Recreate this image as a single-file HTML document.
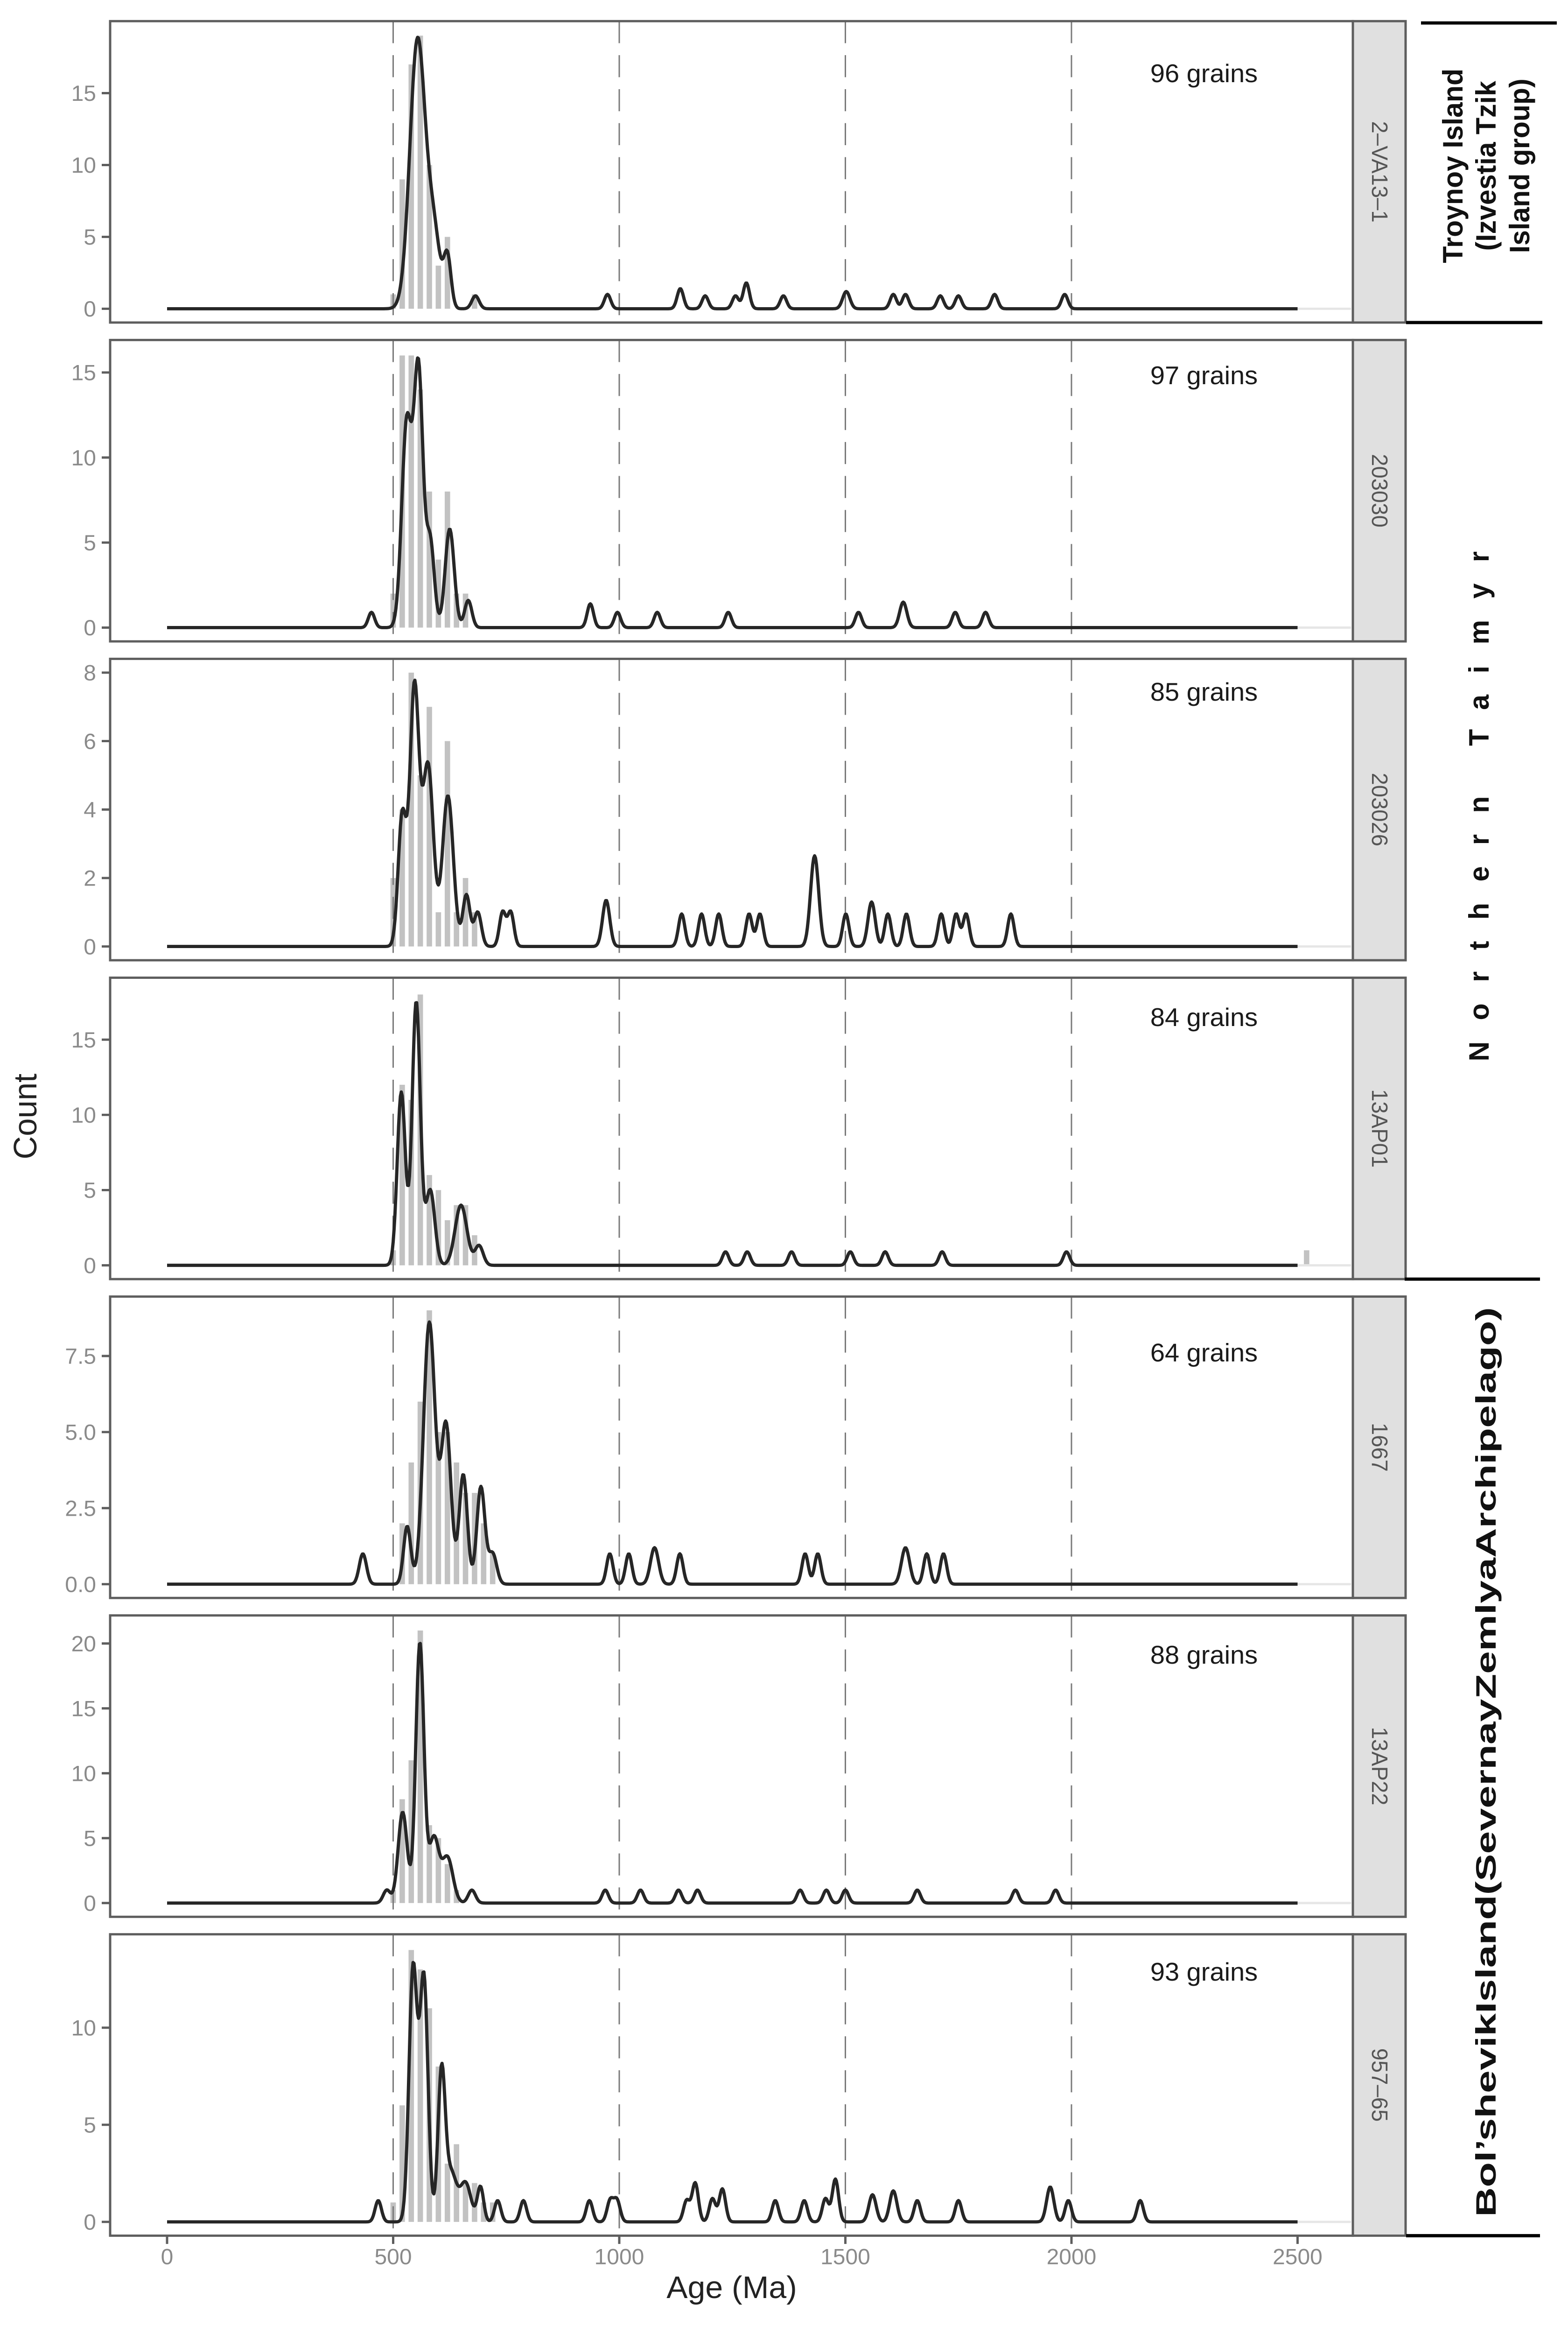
<!DOCTYPE html>
<html><head><meta charset="utf-8"><title>Detrital zircon age spectra</title>
<style>html,body{margin:0;padding:0;background:#fff;width:100vw;height:100vh;overflow:hidden}svg{display:block;width:100vw;height:100vh}</style></head>
<body>
<svg id="chart" viewBox="0 0 3360 5080" preserveAspectRatio="none" xmlns="http://www.w3.org/2000/svg" font-family="'Liberation Sans', sans-serif" overflow="hidden"></svg>
<script>
// ---- data ----
const sampleNames = ["2\u2013VA13\u20131","203030","203026","13AP01","1667","13AP22","957\u201365"];
const grainLabels = ["96 grains","97 grains","85 grains","84 grains","64 grains","88 grains","93 grains"];
const yMax = [19.05, 16.1, 8.0, 18.2, 9.0, 21.1, 14.1];
const yTicks1 = [0,5,10,15];
const yTicks2 = [0,5,10,15];
const yTicks3 = [0,2,4,6,8];
const yTicks4 = [0,5,10,15];
const yTicks5 = [0,2.5,5,7.5];
const yTicks6 = [0,5,10,15,20];
const yTicks7 = [0,5,10];
const xTicks = [0,500,1000,1500,2000,2500];
const refLines = [500,1000,1500,2000];

// KDE components: age (Ma), amplitude (count), sigma (Ma)
const p1Ages=[554,590,620,682,974,1135,1190,1257,1281,1363,1502,1606,1633,1710,1750,1830,1985];
const p1Amps=[18.7,5,3.5,0.9,1,1.4,0.9,0.9,1.8,0.9,1.2,1,1,0.9,0.9,1,1];
const p1Sig =[17,14,8,8,7,7,7,7,7,7,8,7,7,7,7,7,7];
const p2Ages=[452,530,556,582,625,666,936,996,1084,1241,1529,1628,1743,1810];
const p2Amps=[0.9,12,15,5,5.8,1.6,1.4,0.9,0.9,0.9,0.9,1.5,0.9,0.9];
const p2Sig =[7,11,10,9,10,8,7,7,7,7,7,8,7,7];
const p3Ages=[520,547,577,621,662,687,742,760,971,1138,1182,1220,1287,1311,1432,1501,1558,1594,1635,1712,1745,1767,1866];
const p3Amps=[3.8,7.5,5.3,4.4,1.5,1,1,1,1.35,0.95,0.95,0.95,0.95,0.95,2.65,0.95,1.3,0.95,0.95,0.95,0.95,0.95,0.95];
const p3Sig =[9,10,12,12,8,8,7,7,8,7,7,7,7,7,9,7,8,7,7,7,7,7,7];
const p4Ages=[518,551,582,650,690,1235,1283,1381,1511,1588,1714,1989];
const p4Amps=[11.5,17.5,5,4,1.3,0.9,0.9,0.9,0.9,0.9,0.9,0.9];
const p4Sig =[9,9,10,13,9,7,7,7,7,7,7,7];
const p5Ages=[433,531,580,617,655,694,720,979,1021,1078,1134,1411,1439,1633,1680,1717];
const p5Amps=[1,1.9,8.6,5.2,3.6,3.2,1,1,1,1.2,1,1,1,1.2,1,1];
const p5Sig =[8,8,13,11,9,9,9,7,7,9,7,7,7,9,7,7];
const p6Ages=[486,521,559,590,620,674,969,1047,1131,1173,1400,1458,1500,1659,1876,1965];
const p6Amps=[1,7,20,5,3.5,1,1,1,1,1,1,1,1,1,1,1];
const p6Sig =[8,10,9,11,12,8,7,7,7,7,7,7,7,7,7,7];
const p7Ages=[467,544,568,607,628,660,693,731,788,934,980,995,1149,1168,1206,1228,1345,1409,1456,1478,1560,1606,1659,1750,1953,1993,2152];
const p7Amps=[1.1,13,12.5,7.6,2.5,2,1.8,1.1,1.1,1.1,1.1,1.1,1.1,2,1.2,1.7,1.1,1.1,1.2,2.2,1.4,1.6,1.1,1.1,1.8,1.1,1.1];
const p7Sig =[7,9,9,8,12,12,7,7,7,7,7,7,7,7,7,7,7,7,7,7,8,8,7,7,8,7,7];

// Histogram bars: bin centers (Ma) and counts
const p1BarAges=[500,520,540,560,580,600,620,680];
const p1BarCounts=[1,9,17,19,10,3,5,1];
const p2BarAges=[500,520,540,560,580,600,620,640,660];
const p2BarCounts=[2,16,16,14,8,4,8,2,2];
const p3BarAges=[500,520,540,560,580,600,620,640,660,680];
const p3BarCounts=[2,4,8,5,7,1,6,1,2,1];
const p4BarAges=[500,520,540,560,580,600,620,640,660,680,2520];
const p4BarCounts=[1,12,11,18,6,5,3,4,4,2,1];
const p5BarAges=[520,540,560,580,600,620,640,660,680,700,720];
const p5BarCounts=[2,4,6,9,5,5,4,3,3,2,1];
const p6BarAges=[500,520,540,560,580,600,620,640];
const p6BarCounts=[1,8,11,21,6,5,3,1];
const p7BarAges=[500,520,540,560,580,600,620,640,660,680,700,720];
const p7BarCounts=[1,6,14,13,11,8,3,4,2,2,1,1];

const grainOffsets=[133,96,91,105,141,105,101];

// ---- layout ----
const svg=document.getElementById('chart');
const NS='http://www.w3.org/2000/svg';
const PL=236, PR=2899, SR=3012, PH=656, PITCH=694, TOP0=46;
function X(a){return 358+0.969*a;}
function mk(tag,attrs,parent){const e=document.createElementNS(NS,tag);for(const k in attrs)e.setAttribute(k,attrs[k]);(parent||svg).appendChild(e);return e;}

const comps=[[p1Ages,p1Amps,p1Sig],[p2Ages,p2Amps,p2Sig],[p3Ages,p3Amps,p3Sig],[p4Ages,p4Amps,p4Sig],[p5Ages,p5Amps,p5Sig],[p6Ages,p6Amps,p6Sig],[p7Ages,p7Amps,p7Sig]];
const bars=[[p1BarAges,p1BarCounts],[p2BarAges,p2BarCounts],[p3BarAges,p3BarCounts],[p4BarAges,p4BarCounts],[p5BarAges,p5BarCounts],[p6BarAges,p6BarCounts],[p7BarAges,p7BarCounts]];
const ticks=[yTicks1,yTicks2,yTicks3,yTicks4,yTicks5,yTicks6,yTicks7];

for(let i=0;i<7;i++){
  const top=TOP0+i*PITCH, bot=top+PH, m=yMax[i];
  const y0=bot-30, k=(PH-60)/m;
  const Y=v=>y0-v*k;
  const g=mk('g',{});
  
  
  const [ba,bc]=bars[i];
  for(let j=0;j<ba.length;j++){
    const r=mk('rect',{x:X(ba[j]-6),y:Y(bc[j]),width:X(6)-X(-6),height:y0-Y(bc[j]),fill:'#c2c2c2'},g);
    
    
  }
  mk('line',{x1:X(2500),x2:PR-4,y1:y0,y2:y0,stroke:'#e6e6e6','stroke-width':5},g);
  refLines.forEach(a=>{
    const l=mk('line',{x1:X(a),x2:X(a),y1:top,y2:bot,stroke:'#7a7a7a','stroke-width':3,'stroke-dasharray':'48 26'},g);
    
    
  });
  const [ag,am,sg]=comps[i];
  let d='';
  for(let a=0;a<=2500;a+=2){
    let v=0;for(let j=0;j<ag.length;j++){const z=(a-ag[j])/sg[j];v+=am[j]*Math.exp(-0.5*z*z);}
    d+=(a?'L':'M')+X(a).toFixed(1)+' '+Y(v).toFixed(1);
  }
  const p=mk('path',{d:d,fill:'none',stroke:'#262626','stroke-width':7,'stroke-linejoin':'round'},g);
  
  
  mk('rect',{x:PL,y:top,width:PR-PL,height:PH,fill:'none',stroke:'#5e5e5e','stroke-width':5},g);
  const s=mk('rect',{x:PR,y:top,width:SR-PR,height:PH,fill:'#e0e0e0',stroke:'#5e5e5e','stroke-width':5},g);
  
  
  const cx=(PR+SR)/2, cy=top+PH/2;
  const st=mk('text',{x:cx,y:cy,'font-size':48,fill:'#555','text-anchor':'middle','dominant-baseline':'central',transform:`rotate(90 ${cx} ${cy})`},g);
  st.textContent=sampleNames[i];
  
  
  const gl=mk('text',{x:2580,y:top+grainOffsets[i],'font-size':56,fill:'#1a1a1a','text-anchor':'middle'},g);
  gl.textContent=grainLabels[i];
  
  
  ticks[i].forEach(t=>{
    mk('line',{x1:PL-18,x2:PL,y1:Y(t),y2:Y(t),stroke:'#5e5e5e','stroke-width':5},g);
    const tl=mk('text',{x:PL-30,y:Y(t)+17,'font-size':48,fill:'#8a8a8a','text-anchor':'end'},g);
    tl.textContent=(i===4)?t.toFixed(1):String(t);
    
    
  });
}
const botY=TOP0+6*PITCH+PH;
xTicks.forEach(t=>{
  mk('line',{x1:X(t),x2:X(t),y1:botY,y2:botY+18,stroke:'#5e5e5e','stroke-width':5});
  const tl=mk('text',{x:X(t),y:botY+62,'font-size':48,fill:'#8a8a8a','text-anchor':'middle'});
  tl.textContent=String(t);
  
  
});
const xt=mk('text',{x:1568,y:botY+136,'font-size':68,fill:'#222','text-anchor':'middle'});
xt.textContent='Age (Ma)';


const yt=mk('text',{x:78,y:2430,'font-size':70,fill:'#222','text-anchor':'middle',transform:'rotate(-90 78 2430)'});
yt.textContent='Count';



const divs=[[3045,3336,50],[3013,3305,TOP0+PH],[3010,3300,TOP0+3*PITCH+PH],[3013,3300,botY]];
divs.forEach(b=>{
  const l=mk('line',{x1:b[0],x2:b[1],y1:b[2],y2:b[2],stroke:'#000','stroke-width':7});
  
  
});
const troy=["Troynoy Island","(Izvestia Tzik","Island group)"];
const troyX=[3134,3205,3277];
troy.forEach((t,j)=>{
  const e=mk('text',{x:troyX[j],y:361,'font-size':60,'font-weight':'bold',fill:'#111','text-anchor':'middle',transform:`rotate(-90 ${troyX[j]} 361)`});
  e.textContent=t;
  
  
});
const nt=mk('text',{x:3190,y:1755,'font-size':60,'font-weight':'bold',fill:'#111','text-anchor':'middle',textLength:1110,lengthAdjust:'spacing',transform:'rotate(-90 3190 1755)'});
nt.textContent='Northern Taimyr';


const bi=mk('text',{x:3205,y:3835,'font-size':60,'font-weight':'bold',fill:'#111','text-anchor':'middle',textLength:1980,lengthAdjust:'spacingAndGlyphs',transform:'rotate(-90 3205 3835)'});
bi.textContent='Bol\u2019shevikIsland(SevernayZemlyaArchipelago)';


</script>
</body></html>
